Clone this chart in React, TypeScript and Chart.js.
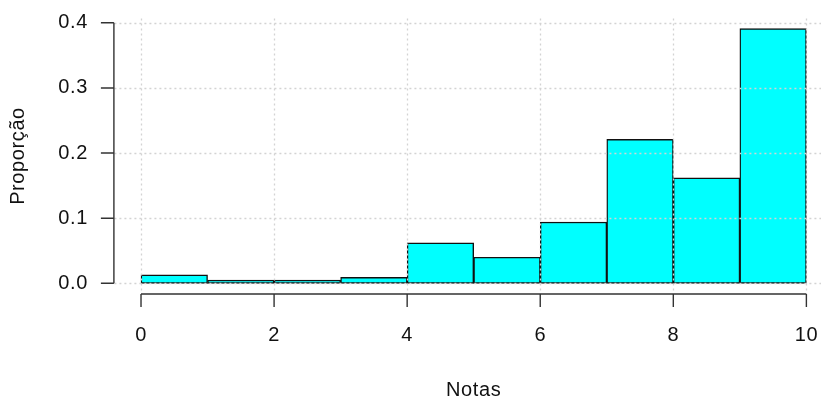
import React, { useEffect, useRef } from "react";
import { Chart, registerables } from "chart.js";

Chart.register(...registerables);

// Histogram of grades: bins of width 1 from 0 to 10, heights are proportions
const binStarts = [0, 1, 2, 3, 4, 5, 6, 7, 8, 9];
const binWidth = 1;
const proporcao = [0.013, 0.005, 0.005, 0.009, 0.062, 0.040, 0.094, 0.221, 0.162, 0.391];

const xTicks = [0, 2, 4, 6, 8, 10];
const yTicks = [0, 0.1, 0.2, 0.3, 0.4];
const yTickLabels = ["0.0", "0.1", "0.2", "0.3", "0.4"];

const xTitle = "Notas";
const yTitle = "Proporção";

const FONT = '20px "Liberation Sans", Arial, sans-serif';
const INK = "#111";
const AXIS = "#333";

// base-graphics style range: data range widened by 4% on each side
const xLo = binStarts[0];
const xHi = binStarts[binStarts.length - 1] + binWidth;
const xPad = (xHi - xLo) * 0.04;
const yHi = Math.max(...proporcao);
const yPad = yHi * 0.04;

const gridOverlay = {
  id: "gridOverlay",
  afterDatasetsDraw(chart: any) {
    const { ctx, chartArea, scales } = chart;
    const x = scales.x;
    const y = scales.y;
    ctx.save();
    ctx.strokeStyle = "#d3d3d3";
    ctx.lineWidth = 1.3;
    ctx.setLineDash([2, 3]);
    for (const v of xTicks) {
      const px = Math.round(x.getPixelForValue(v)) + 0.5;
      ctx.beginPath();
      ctx.moveTo(px, chartArea.top);
      ctx.lineTo(px, chartArea.bottom);
      ctx.stroke();
    }
    for (const v of yTicks) {
      const py = Math.round(y.getPixelForValue(v)) + 0.5;
      ctx.beginPath();
      ctx.moveTo(chartArea.left, py);
      ctx.lineTo(chartArea.right, py);
      ctx.stroke();
    }
    ctx.restore();
  },
};

const baseAxes = {
  id: "baseAxes",
  afterDraw(chart: any) {
    const { ctx, chartArea, scales } = chart;
    const x = scales.x;
    const y = scales.y;
    const tick = 13;
    ctx.save();
    ctx.strokeStyle = AXIS;
    ctx.lineWidth = 1.4;
    ctx.setLineDash([]);

    // x axis
    const ax = chartArea.bottom + 0.5;
    const x0 = x.getPixelForValue(xTicks[0]);
    const x1 = x.getPixelForValue(xTicks[xTicks.length - 1]);
    ctx.beginPath();
    ctx.moveTo(x0, ax);
    ctx.lineTo(x1, ax);
    for (const v of xTicks) {
      const px = x.getPixelForValue(v);
      ctx.moveTo(px, ax);
      ctx.lineTo(px, ax + tick);
    }
    ctx.stroke();

    // y axis
    const ay = chartArea.left - 0.5;
    const y0 = y.getPixelForValue(yTicks[0]);
    const y1 = y.getPixelForValue(yTicks[yTicks.length - 1]);
    ctx.beginPath();
    ctx.moveTo(ay, y0);
    ctx.lineTo(ay, y1);
    for (const v of yTicks) {
      const py = y.getPixelForValue(v);
      ctx.moveTo(ay, py);
      ctx.lineTo(ay - tick, py);
    }
    ctx.stroke();

    ctx.fillStyle = INK;
    ctx.font = FONT;
    (ctx as any).letterSpacing = "0.6px";
    ctx.textBaseline = "middle";

    ctx.textAlign = "center";
    xTicks.forEach((v) => {
      ctx.fillText(String(v), x.getPixelForValue(v), ax + 41);
    });

    ctx.textAlign = "right";
    yTicks.forEach((v, i) => {
      ctx.fillText(yTickLabels[i], ay - tick - 13, y.getPixelForValue(v));
    });

    // titles
    ctx.textAlign = "center";
    ctx.fillText(xTitle, (chartArea.left + chartArea.right) / 2, ax + 96);
    ctx.save();
    ctx.translate(18, (chartArea.top + chartArea.bottom) / 2);
    ctx.rotate(-Math.PI / 2);
    ctx.fillText(yTitle, 0, 0);
    ctx.restore();

    ctx.restore();
  },
};

export default function App() {
  const ref = useRef<HTMLCanvasElement | null>(null);

  useEffect(() => {
    if (!ref.current) return;
    const chart = new Chart(ref.current, {
      type: "bar",
      data: {
        datasets: [
          {
            data: binStarts.map((b, i) => ({ x: b + binWidth / 2, y: proporcao[i] })),
            backgroundColor: "#00ffff",
            borderColor: "#111",
            borderWidth: 1.4,
            borderSkipped: false,
            barPercentage: 1,
            categoryPercentage: 1,
          },
        ],
      },
      options: {
        animation: false,
        responsive: false,
        devicePixelRatio: 1,
        layout: { padding: { left: 114.4, top: 18.5, right: 7, bottom: 104.5 } },
        plugins: {
          legend: { display: false },
          tooltip: { enabled: false },
          title: { display: false },
        },
        scales: {
          x: {
            type: "linear",
            display: false,
            offset: false,
            min: xLo - xPad,
            max: xHi + xPad,
          },
          y: {
            type: "linear",
            display: false,
            min: -yPad,
            max: yHi + yPad,
          },
        },
      },
      plugins: [gridOverlay, baseAxes],
    });
    return () => chart.destroy();
  }, []);

  return (
    <div
      style={{
        position: "fixed",
        left: 0,
        top: 0,
        width: 821,
        height: 398,
        overflow: "hidden",
        background: "#fff",
      }}
    >
      <canvas ref={ref} width={840} height={398} style={{ display: "block" }} />
    </div>
  );
}
